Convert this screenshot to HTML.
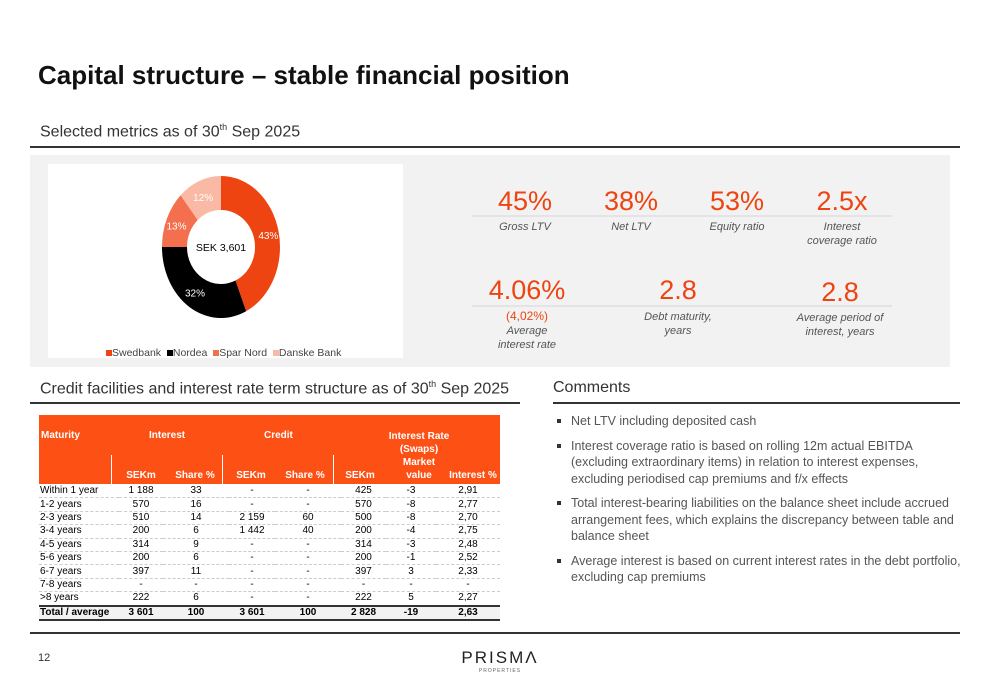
<!DOCTYPE html>
<html><head><meta charset="utf-8"><style>
body{margin:0;width:1000px;height:685px;background:#fff;position:relative;overflow:hidden;font-family:"Liberation Sans",sans-serif;}
.a{position:absolute;}
.t{color:#333;}
.big{color:#ee4411;font-size:27px;text-align:center;width:140px;}
.lbl{color:#555;font-size:11px;font-style:italic;text-align:center;width:140px;line-height:14px;}
table{border-collapse:collapse;font-size:10px;table-layout:fixed;}
td{padding:0;height:12.4px;line-height:12px;text-align:center;border-bottom:1px dashed #ccc;}
td:first-child{text-align:left;padding-left:1px;}
ul{margin:0;padding:0;list-style:none;}
li{position:relative;padding-left:18px;margin-bottom:8px;font-size:12.5px;color:#555;line-height:16.5px;}
li:before{content:"";position:absolute;left:4px;top:6px;width:4px;height:4px;background:#333;}
</style></head><body>
<div class="a" style="left:38px;top:60px;font-size:26px;font-weight:bold;color:#111;">Capital structure – stable financial position</div>
<div class="a t" style="left:40px;top:122px;font-size:16px;">Selected metrics as of 30<sup style="font-size:9px">th</sup> Sep 2025</div>
<div class="a" style="left:30px;top:146px;width:930px;height:2px;background:#333;"></div>
<div class="a" style="left:30px;top:155px;width:920px;height:212px;background:#f2f2f2;"></div>
<div class="a" style="left:48px;top:164px;width:355px;height:194px;background:#fff;">
<svg width="355" height="194" id="donut"></svg>
</div>
<div class="a" style="left:106px;top:347px;font-size:10.5px;color:#444;">
<span><span style="display:inline-block;width:6px;height:6px;background:#ee4411"></span>Swedbank</span>&nbsp;&nbsp;<span><span style="display:inline-block;width:6px;height:6px;background:#000"></span>Nordea</span>&nbsp;&nbsp;<span><span style="display:inline-block;width:6px;height:6px;background:#f36f4d"></span>Spar Nord</span>&nbsp;&nbsp;<span><span style="display:inline-block;width:6px;height:6px;background:#f9b9a4"></span>Danske Bank</span></div>

<div class="a" style="left:472px;top:215px;width:420px;height:2px;background:#e4e4e4;"></div>
<div class="a" style="left:472px;top:305px;width:420px;height:2px;background:#e4e4e4;"></div>
<div class="a big" style="left:455px;top:186px;">45%</div>
<div class="a lbl" style="left:455px;top:220px;">Gross LTV</div>
<div class="a big" style="left:561px;top:186px;">38%</div>
<div class="a lbl" style="left:561px;top:220px;">Net LTV</div>
<div class="a big" style="left:667px;top:186px;">53%</div>
<div class="a lbl" style="left:667px;top:220px;">Equity ratio</div>
<div class="a big" style="left:772px;top:186px;">2.5x</div>
<div class="a lbl" style="left:772px;top:220px;">Interest<br>coverage ratio</div>
<div class="a big" style="left:457px;top:275px;">4.06%</div>
<div class="a lbl" style="left:457px;top:309px;"><span style="color:#ee4411;font-style:normal;font-size:12px">(4,02%)</span><br>Average<br>interest rate</div>
<div class="a big" style="left:608px;top:275px;">2.8</div>
<div class="a lbl" style="left:608px;top:310px;">Debt maturity,<br>years</div>
<div class="a big" style="left:770px;top:277px;">2.8</div>
<div class="a lbl" style="left:770px;top:311px;">Average period of<br>interest, years</div>

<div class="a t" style="left:40px;top:379px;font-size:16px;">Credit facilities and interest rate term structure as of 30<sup style="font-size:9px">th</sup> Sep 2025</div>
<div class="a" style="left:30px;top:402px;width:490px;height:2px;background:#333;"></div>
<div class="a t" style="left:553px;top:379px;font-size:16px;">Comments</div>
<div class="a" style="left:553px;top:402px;width:407px;height:2px;background:#333;"></div>

<div class="a" style="left:39px;top:415px;width:461px;height:69px;background:#fc5014;color:#fff;font-size:10px;font-weight:bold;">
<div class="a" style="left:2px;top:15px;">Maturity</div>
<div class="a" style="left:110px;top:15px;">Interest</div>
<div class="a" style="left:225px;top:15px;">Credit</div>
<div class="a" style="left:340px;top:15px;width:80px;text-align:center;line-height:13px;">Interest Rate<br>(Swaps)<br>Market<br>value</div>
<div class="a" style="left:72px;top:40px;width:1px;height:29px;background:#fff"></div>
<div class="a" style="left:183px;top:40px;width:1px;height:29px;background:#fff"></div>
<div class="a" style="left:294px;top:40px;width:1px;height:29px;background:#fff"></div>
<div class="a" style="left:84px;top:55px;width:36px;text-align:center">SEKm</div>
<div class="a" style="left:136px;top:55px;width:40px;text-align:center">Share %</div>
<div class="a" style="left:194px;top:55px;width:36px;text-align:center">SEKm</div>
<div class="a" style="left:246px;top:55px;width:40px;text-align:center">Share %</div>
<div class="a" style="left:303px;top:55px;width:36px;text-align:center">SEKm</div>
<div class="a" style="left:410px;top:55px;width:48px;text-align:center">Interest %</div>
</div>
<table class="a" style="left:39px;top:485px;width:461px;">
<colgroup><col style="width:80px"><col style="width:44px"><col style="width:66px"><col style="width:46px"><col style="width:66px"><col style="width:45px"><col style="width:50px"><col style="width:64px"></colgroup>
<tr><td>Within 1 year</td><td>1 188</td><td>33</td><td>-</td><td>-</td><td>425</td><td>-3</td><td>2,91</td></tr>
<tr><td>1-2 years</td><td>570</td><td>16</td><td>-</td><td>-</td><td>570</td><td>-8</td><td>2,77</td></tr>
<tr><td>2-3 years</td><td>510</td><td>14</td><td>2 159</td><td>60</td><td>500</td><td>-8</td><td>2,70</td></tr>
<tr><td>3-4 years</td><td>200</td><td>6</td><td>1 442</td><td>40</td><td>200</td><td>-4</td><td>2,75</td></tr>
<tr><td>4-5 years</td><td>314</td><td>9</td><td>-</td><td>-</td><td>314</td><td>-3</td><td>2,48</td></tr>
<tr><td>5-6 years</td><td>200</td><td>6</td><td>-</td><td>-</td><td>200</td><td>-1</td><td>2,52</td></tr>
<tr><td>6-7 years</td><td>397</td><td>11</td><td>-</td><td>-</td><td>397</td><td>3</td><td>2,33</td></tr>
<tr><td>7-8 years</td><td>-</td><td>-</td><td>-</td><td>-</td><td>-</td><td>-</td><td>-</td></tr>
<tr><td style="border-bottom:2px solid #333">&gt;8 years</td><td style="border-bottom:2px solid #333">222</td><td style="border-bottom:2px solid #333">6</td><td style="border-bottom:2px solid #333">-</td><td style="border-bottom:2px solid #333">-</td><td style="border-bottom:2px solid #333">222</td><td style="border-bottom:2px solid #333">5</td><td style="border-bottom:2px solid #333">2,27</td></tr>
<tr style="font-weight:bold;background:#f2f2f2"><td style="border-bottom:2px solid #333">Total / average</td><td style="border-bottom:2px solid #333">3 601</td><td style="border-bottom:2px solid #333">100</td><td style="border-bottom:2px solid #333">3 601</td><td style="border-bottom:2px solid #333">100</td><td style="border-bottom:2px solid #333">2 828</td><td style="border-bottom:2px solid #333">-19</td><td style="border-bottom:2px solid #333">2,63</td></tr>
</table>

<ul class="a" style="left:553px;top:413px;width:410px;">
<li>Net LTV including deposited cash</li>
<li>Interest coverage ratio is based on rolling 12m actual EBITDA (excluding extraordinary items) in relation to interest expenses, excluding periodised cap premiums and f/x effects</li>
<li>Total interest-bearing liabilities on the balance sheet include accrued arrangement fees, which explains the discrepancy between table and balance sheet</li>
<li>Average interest is based on current interest rates in the debt portfolio, excluding cap premiums</li>
</ul>

<div class="a" style="left:30px;top:632px;width:930px;height:2px;background:#333;"></div>
<div class="a" style="left:38px;top:652px;font-size:11px;color:#333;">12</div>
<div class="a" style="left:450px;top:648px;width:100px;text-align:center;">
<div style="font-size:17px;letter-spacing:2px;color:#222;">PRISMΛ</div>
<div style="font-size:5px;color:#666;letter-spacing:1px;">PROPERTIES</div></div>

<script>
const banks=["Swedbank","Nordea","Spar Nord","Danske Bank"];
const shares=[43,32,13,12];
const colors=["#ee4411","#000000","#f36f4d","#f9b9a4"];
const labelCols=["#fff","#fff","#fff","#fff"];
const svg=document.getElementById('donut');
const NS="http://www.w3.org/2000/svg";
const cx=173,cy=83,orx=59,ory=71,irx=34,iry=37;
function pt(rx,ry,a){return [cx+rx*Math.sin(a),cy-ry*Math.cos(a)];}
const total=shares.reduce((s,v)=>s+v,0);
let acc=0;
shares.forEach((v,i)=>{
 const a0=acc/total*2*Math.PI,a1=(acc+v)/total*2*Math.PI;acc+=v;
 const lg=(a1-a0)>Math.PI?1:0;
 const o0=pt(orx,ory,a0),o1=pt(orx,ory,a1),i1=pt(irx,iry,a1),i0=pt(irx,iry,a0);
 const p=document.createElementNS(NS,'path');
 p.setAttribute('d',`M${o0} A${orx},${ory} 0 ${lg} 1 ${o1} L${i1} A${irx},${iry} 0 ${lg} 0 ${i0}Z`);
 p.setAttribute('fill',colors[i]);
 
 
 svg.appendChild(p);
 const am=(a0+a1)/2,l=pt((orx+irx)/2+2,(ory+iry)/2,am);
 const t=document.createElementNS(NS,'text');
 t.setAttribute('x',l[0]);t.setAttribute('y',l[1]+4);t.setAttribute('text-anchor','middle');
 t.setAttribute('font-size','10');t.setAttribute('fill',labelCols[i]);
 t.setAttribute('font-family','Liberation Sans, sans-serif');
 
 
 t.textContent=v+'%';svg.appendChild(t);
});
const c=document.createElementNS(NS,'text');
c.setAttribute('x',cx);c.setAttribute('y',cy+4);c.setAttribute('text-anchor','middle');
c.setAttribute('font-size','10.5');c.setAttribute('font-family','Liberation Sans, sans-serif');


c.textContent='SEK 3,601';svg.appendChild(c);
</script>
</body></html>
